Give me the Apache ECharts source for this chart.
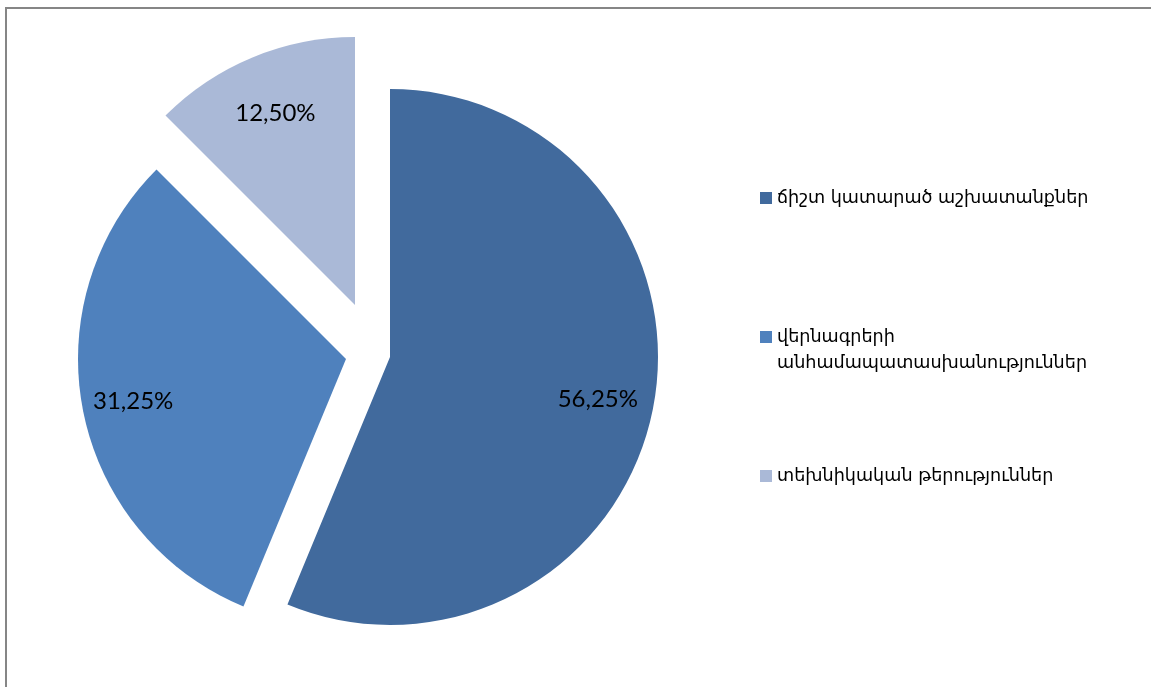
<!DOCTYPE html>
<html>
<head>
<meta charset="utf-8">
<script src="https://cdn.jsdelivr.net/npm/echarts@6/dist/echarts.min.js"></script>
<style>
    html, body { margin: 0; padding: 0; background: #fff; }
    #chart_main { width: 1151px; height: 687px; }
</style>
</head>
<body>
<div id="chart_main"></div>
<script>
var categories = ['ճիշտ կատարած աշխատանքներ', 'վերնագրերի անհամապատասխանություններ', 'տեխնիկական թերություններ'];
var values = [56.25, 31.25, 12.5];
var colors = ['#416A9D', '#4F81BD', '#AAB9D7'];

// every slice is pulled out by a different amount, so each one gets its own centre
var centers = [[390, 357], [346, 359], [355, 305]];
var radius = 268;
// inner edge of the invisible ring that carries each percentage label
var labelInner = [160, 160, 142];
var labelPadding = [[0, 10, 0, 0], [0, 0, 0, 0], [0, 0, 0, 0]];

function sliceSeries(k, forLabel) {
    return {
        type: 'pie',
        silent: true,
        animation: false,
        center: centers[k],
        radius: forLabel ? [labelInner[k], radius] : [0, radius],
        startAngle: 90,
        clockwise: true,
        itemStyle: { borderWidth: 0 },
        label: {
            position: 'inside',
            color: '#000',
            fontFamily: 'Lato',
            fontSize: 24,
            padding: labelPadding[k],
            formatter: function (p) {
                return p.value.toFixed(2).replace('.', ',') + '%';
            }
        },
        labelLine: { show: false },
        data: categories.map(function (name, i) {
            return {
                name: name,
                value: values[i],
                itemStyle: { color: (i === k && !forLabel) ? colors[i] : 'rgba(0,0,0,0)' },
                label: { show: forLabel && i === k }
            };
        })
    };
}

var myChart = echarts.init(document.getElementById('chart_main'));
var series = [];
for (var k = 0; k < categories.length; k++) {
    series.push(sliceSeries(k, false));
}
for (var k = 0; k < categories.length; k++) {
    series.push(sliceSeries(k, true));
}

var option = {
    backgroundColor: '#fff',
    graphic: [{
        type: 'polyline',
        shape: { points: [[6, 700], [6, 8], [1160, 8]] },
        style: { fill: null, stroke: '#868686', lineWidth: 2 },
        z: -1
    }],
    legend: {
        orient: 'vertical',
        left: 760,
        top: 185,
        padding: 0,
        itemGap: 87,
        itemWidth: 12,
        itemHeight: 12,
        icon: 'rect',
        selectedMode: false,
        textStyle: {
            fontFamily: 'DejaVu Sans',
            fontSize: 17.6,
            color: '#000',
            lineHeight: 26
        },
        // long entry wraps onto two lines; the empty first line keeps the marker level with its first line
        formatter: function (name) {
            return name.length > 30 ? '\n' + name.replace(' ', '\n') : name;
        },
        data: categories.map(function (name, i) {
            return { name: name, itemStyle: { color: colors[i], opacity: 1 } };
        })
    },
    series: series
};

myChart.setOption(option);
</script>
</body>
</html>
